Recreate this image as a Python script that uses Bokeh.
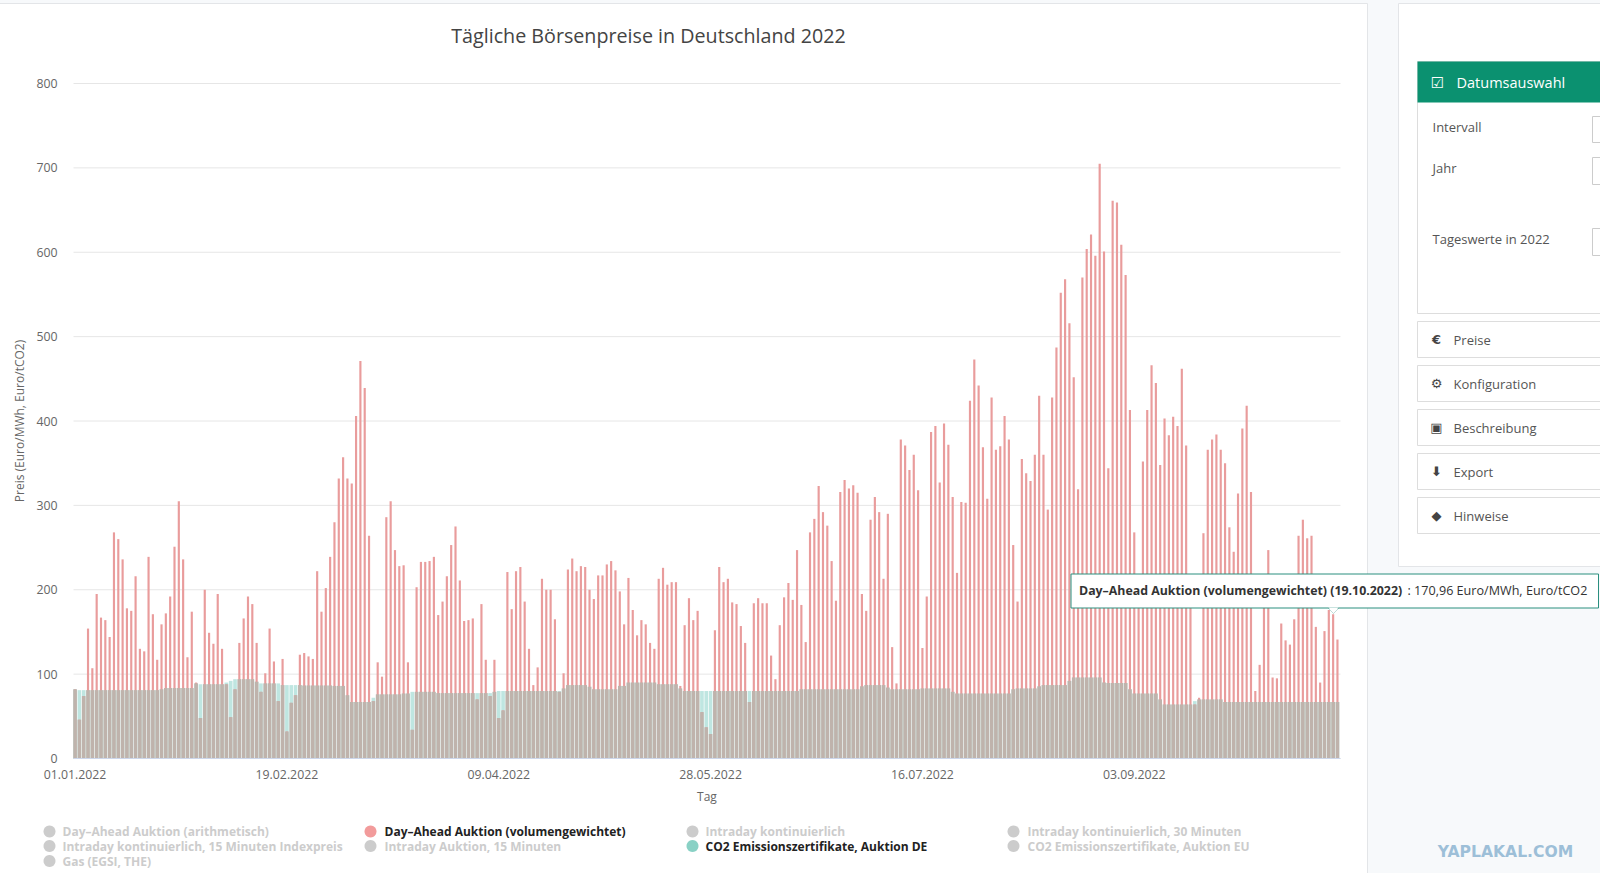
import numpy as np
from bokeh.plotting import figure
from bokeh.embed import file_html
from bokeh.resources import INLINE
from bokeh.models import Range1d, FixedTicker, Label, BoxAnnotation, PolyAnnotation, LinearAxis

TITLE = "Tägliche Börsenpreise in Deutschland 2022"
TICK_DAYS = [0, 49, 98, 147, 196, 245]
TICK_LABELS = ["01.01.2022", "19.02.2022", "09.04.2022", "28.05.2022", "16.07.2022", "03.09.2022"]
Y_TICKS = [0, 100, 200, 300, 400, 500, 600, 700, 800]

day_ahead = [
82,46,74,154,107,195,167,164,144,268,
260,236,178,175,216,130,127,239,171,117,
159,172,192,251,305,236,120,174,90,48,
200,149,136,195,130,88,49,82,137,166,
192,183,137,79,101,154,115,68,118,32,
66,75,123,125,121,118,222,174,202,239,
280,332,357,332,326,406,471,439,264,68,
114,97,286,305,247,228,229,114,34,203,
233,233,234,239,170,186,216,253,275,211,
163,164,166,70,183,117,74,117,48,57,
221,177,222,227,186,130,87,108,213,200,
200,165,79,101,224,237,222,228,227,200,
189,217,217,230,234,223,198,159,214,176,
146,164,159,137,130,213,226,206,209,209,
86,158,190,164,175,55,37,29,152,227,
209,213,185,183,157,137,67,184,190,184,
184,122,94,158,191,208,188,247,182,138,
268,284,323,292,276,234,187,316,330,320,
324,315,195,175,283,310,292,213,290,132,
89,378,371,342,360,318,131,192,387,394,
327,397,372,310,220,304,303,424,473,442,
369,308,428,366,370,406,378,253,186,355,
338,329,360,430,360,295,428,487,552,568,
516,452,319,570,604,621,596,705,601,344,
661,659,609,573,413,268,190,352,413,466,
445,348,403,383,405,394,462,371,190,64,
72,267,366,378,384,366,350,274,245,314,
391,418,316,80,111,190,247,96,95,160,
140,135,165,264,283,261,264,156,90,151,
176,170.96,141]

co2_de = [
82,81,81,81,81,81,81,81,81,81,
81,81,81,81,81,81,81,81,81,81,
82,83.5,83.5,83.5,83.5,83.5,83.5,83.5,89,88,
88,88,88,88,88,90,92,94,94,94,
94,94,91,89,89,89,89,89,87,87,
87,87,87,86.5,86.5,86.5,86.5,86.5,86.5,86.5,
86,86,86,75,67,67,67,67,67,72,
76,76,76,76,76,76,77,77,79,79,
79,79,79,79,77.5,77.5,77.5,77.5,77.5,77.5,
77.5,77.5,77.5,77.5,77.5,77.5,77.5,79,80,80,
80,80,80,80,80,80,80,80,80,80,
80,80,80,83,87,87,87,87,87,85,
82,82,82,82,82,82,86,86,90,90,
90,90,90,90,90,88,88,88,88,88,
83,80,80,80,80,80,80,80,80,80,
80,80,80,80,80,80,80,80,80,80,
80,80,80,80,80,80,80,80,82,82,
82,82,82,82,82,82,82,82,82,82,
82,82,85.5,87,87,87,87,87,84,82,
82,82,82,82,82,82,83,83,83,83,
83,83,83,79,77,77,77,77,77,77,
77,77,77,77,77,77,77,82,83,83,
83,83,83,85.5,87,87,87,87,87,87,
92,96,96,96,96,96,96,96,90,89.5,
89.5,89.5,89.5,89.5,82,77,77,77,77,77,
77,70,64,64,64,64,64,64,64,68,
70,70,70,70,70,70,67,67,67,67,
67,67,67,67,67,67,67,67,67,67,
67,67,67,67,67,67,67,67,67,67,
67,67,67]

legend_items = [
 ("Day–Ahead Auktion (arithmetisch)", 0, 0, False, "#cccccc"),
 ("Day–Ahead Auktion (volumengewichtet)", 1, 0, True, "#f29b9b"),
 ("Intraday kontinuierlich", 2, 0, False, "#cccccc"),
 ("Intraday kontinuierlich, 30 Minuten", 3, 0, False, "#cccccc"),
 ("Intraday kontinuierlich, 15 Minuten Indexpreis", 0, 1, False, "#cccccc"),
 ("Intraday Auktion, 15 Minuten", 1, 1, False, "#cccccc"),
 ("CO2 Emissionszertifikate, Auktion DE", 2, 1, True, "#89d1c5"),
 ("CO2 Emissionszertifikate, Auktion EU", 3, 1, False, "#cccccc"),
 ("Gas (EGSI, THE)", 0, 2, False, "#cccccc"),
]
menu_items = [("Preise", "€"), ("Konfiguration", "⚙"), ("Beschreibung", "▣"), ("Export", "⬇"), ("Hinweise", "◆")]

days = np.arange(len(day_ahead))
red = np.array(day_ahead, dtype=float)
teal = np.array(co2_de, dtype=float)
overlap = np.minimum(red, teal)

W, H = 1608, 881
XOFF, YOFF = 8, 8          # the canvas starts 8px left of and above the window corner
FL, FR, FT, FB = 73.0, 1340.0, 83.0, 758.0
PX_X = (1337.0 - 74.6) / 292       # px per day
PX_Y = (FB - FT) / 800             # px per unit
X0, X1 = -0.36, 292.7

x_range = Range1d(X0 - (FL + XOFF) / PX_X, X0 + (W - FL - XOFF) / PX_X)
y_range = Range1d((FB + YOFF - H) / PX_Y, (FB + YOFF) / PX_Y)

p = figure(width=W, height=H, x_range=x_range, y_range=y_range,
           output_backend="svg", toolbar_location=None, margin=(-8, 0, 0, -8),
           x_axis_type=None, y_axis_type=None,
           min_border=0, min_border_left=0, min_border_right=0, min_border_top=0, min_border_bottom=0)
p.background_fill_color = "#f7f9fb"
p.border_fill_color = "#f7f9fb"
p.outline_line_color = None
p.grid.visible = False

ax = LinearAxis(fixed_location=0, ticker=FixedTicker(ticks=TICK_DAYS),
                major_label_overrides={d: l for d, l in zip(TICK_DAYS, TICK_LABELS)},
                axis_label="Tag", bounds=(X0, X1))
ay = LinearAxis(fixed_location=X0, ticker=FixedTicker(ticks=Y_TICKS),
                axis_label="Preis (Euro/MWh, Euro/tCO2)", bounds=(0, 800))
for a in (ax, ay):
    a.major_tick_line_color = None
    a.minor_tick_line_color = None
    a.major_label_text_font = "Open Sans"
    a.major_label_text_font_size = "12.3px"
    a.major_label_text_color = "#666666"
    a.axis_label_text_font = "Open Sans"
    a.axis_label_text_font_style = "normal"
    a.axis_label_text_font_size = "12px"
    a.axis_label_text_color = "#666666"
ay.axis_line_color = None
ax.axis_line_color = "#ccd6eb"
ax.major_label_standoff = 5
ay.major_label_standoff = 10
ax.axis_label_standoff = 6
ay.axis_label_standoff = 5
p.add_layout(ax, "below")
p.add_layout(ay, "left")

p.segment(x0=[X0]*len(Y_TICKS), x1=[X1]*len(Y_TICKS), y0=Y_TICKS, y1=Y_TICKS,
          line_color="#e6e6e6", line_width=1, level="underlay")

p.vbar(x=days, top=teal, width=0.84, fill_color="#bfe6e1", line_color=None)
p.vbar(x=days, top=red, width=0.5, fill_color="#e99c9c", line_color=None)
p.vbar(x=days, top=overlap, width=0.84, fill_color="#bfb3ac", line_color=None)


def sx(x):
    return x + XOFF


def sy(y):
    return H - YOFF - y


def box(x0, y0, x1, y1, fill="#ffffff", line=None, level="annotation", width=1):
    p.add_layout(BoxAnnotation(left=sx(x0), right=sx(x1), top=sy(y0), bottom=sy(y1),
                               left_units="screen", right_units="screen", top_units="screen", bottom_units="screen",
                               fill_color=fill, fill_alpha=1, line_color=line, line_alpha=1, line_width=width,
                               level=level, editable=False))


def txt(x, y, s, size=12, color="#555555", font="Open Sans", style="normal", align="left", angle=0):
    p.add_layout(Label(x=sx(x), y=sy(y), text=s, x_units="screen", y_units="screen",
                       text_font=font, text_font_size=f"{size}px", text_font_style=style, text_color=color,
                       text_align=align, text_baseline="middle", angle=angle))


def dot(x, y, r, color):
    t = np.linspace(0, 2*np.pi, 25)[:-1]
    p.add_layout(PolyAnnotation(xs=list(sx(x)+r*np.cos(t)), ys=list(sy(y)+r*np.sin(t)),
                                xs_units="screen", ys_units="screen",
                                fill_color=color, fill_alpha=1, line_color=None))


# cards
box(-9, 3, 1367, 900, line="#e3e5e8", level="image")
box(1398, 3, 1620, 566, line="#e3e5e8", level="image")
box(1417, 61, 1620, 313, line="#dddddd", level="image")
box(1417, 61, 1620, 102, fill="#0b9170", level="image")
for y0, y1 in [(116, 142), (157, 184), (228, 255)]:
    box(1592, y0, 1620, y1, line="#cccccc", level="image")
for yy in [321, 365, 409, 453, 497]:
    box(1417, yy, 1620, yy+36, line="#dddddd", level="image")

txt(648, 35, TITLE, size=19.7, color="#444444", align="center")

# legend
COLX_DOT = [49, 370, 692, 1013]
COLX_TXT = [62, 384, 705, 1027]
ROWY = [831, 845.5, 860.5]
for s, c, r, active, col in legend_items:
    dot(COLX_DOT[c], ROWY[r], 6, col)
    txt(COLX_TXT[c], ROWY[r], s, size=12, style="bold", color="#222222" if active else "#cccccc")

# side panel
txt(1437, 82, "☑", size=15, color="#ffffff", font="DejaVu Sans", align="center")
txt(1456, 82, "Datumsauswahl", size=14.5, color="#ffffff")
txt(1432, 126, "Intervall", size=13)
txt(1432, 167, "Jahr", size=13)
txt(1432, 238, "Tageswerte in 2022", size=13)
for (s, icon), yy in zip(menu_items, [339, 383, 427, 471, 515]):
    txt(1436, yy, icon, size=13, color="#444444", font="DejaVu Sans", style="bold", align="center")
    txt(1453, yy, s, size=13)

# tooltip
t = np.array([-6.0, 0.0, 6.0])
p.add_layout(PolyAnnotation(xs=list(sx(1333)+t), ys=[sy(607), sy(613), sy(607)],
                            xs_units="screen", ys_units="screen",
                            fill_color="#ffffff", fill_alpha=1, line_color="#2a8f7f"))
box(1070.5, 573.5, 1598, 607.5, line="#2a8f7f")
p.add_layout(PolyAnnotation(xs=list(sx(1333)+t*0.85), ys=[sy(607), sy(612), sy(607)],
                            xs_units="screen", ys_units="screen",
                            fill_color="#ffffff", fill_alpha=1, line_color=None))
txt(1078.5, 589.5, "Day–Ahead Auktion (volumengewichtet) (19.10.2022)", size=12.35, style="bold", color="#333333")
txt(1407, 589.5, ": 170,96 Euro/MWh, Euro/tCO2", size=12.6, color="#333333")

# watermark
txt(1505, 851, "YAPLAKAL.COM", size=15.6, color="#9dbfd8", font="DejaVu Sans", style="bold", align="center")

open("out.html", "w").write(file_html(p, INLINE))
